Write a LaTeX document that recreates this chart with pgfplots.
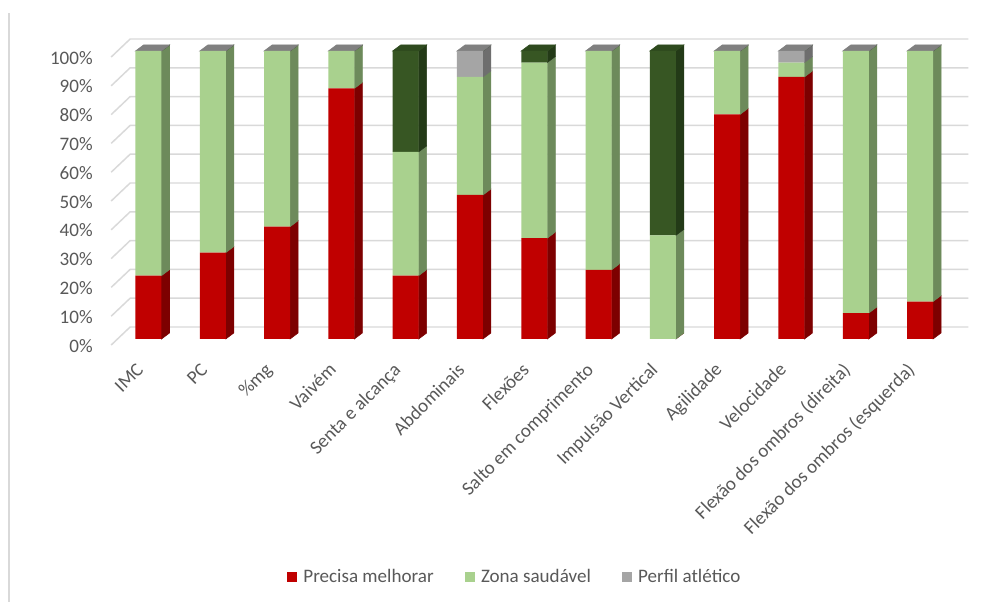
\documentclass[border=0pt]{standalone}
\usepackage{pgfplots}
\pgfplotsset{compat=1.18}
\usepackage{pgfplotstable}
\usepackage{fontspec}
\setmainfont{Carlito}

\definecolor{redF}{HTML}{C00000}
\definecolor{redS}{HTML}{7D0000}
\definecolor{grnF}{HTML}{A9D18E}
\definecolor{grnS}{HTML}{6D8A5B}
\definecolor{gryF}{HTML}{A5A5A5}
\definecolor{gryS}{HTML}{6E6E6E}
\definecolor{gryC}{HTML}{808080}
\definecolor{dkgF}{HTML}{375623}
\definecolor{dkgS}{HTML}{233A17}
\definecolor{dkgC}{HTML}{2E4A1E}
\definecolor{gridc}{HTML}{D9D9D9}
\definecolor{textc}{HTML}{595959}

\pgfdeclareplotmark{empty}{}

% % per test: precisa melhorar, zona saudavel, perfil atletico, perfil (verde escuro)
\pgfplotstableread{
x  red green gray dark
0  22  78    0    0
1  30  70    0    0
2  39  61    0    0
3  87  13    0    0
4  22  43    0    35
5  50  41    9    0
6  35  61    0    4
7  24  76    0    0
8  0   36    0    64
9  78  22    0    0
10 91  5     4    0
11 9   91    0    0
12 13  87    0    0
}\testdata

\pgfplotsset{
  base/.style={
    scale only axis, width=629.3pt, height=216pt,
    xmin=-0.6, xmax=12.45, ymin=0, ymax=100,
    enlargelimits=false,
    at={(82.43pt,197.25pt)}, anchor=south west,
  },
  side/.style 2 args={
    only marks, mark=empty, scatter,
    visualization depends on={\thisrow{#1} \as \hh},
    scatter/@pre marker code/.code={%
      \fill[#2] (9.75pt,0pt) -- (15.75pt,4.5pt) -- (15.75pt,4.5pt+\hh*2.16pt)
        -- (9.75pt,\hh*2.16pt) -- cycle;},
    scatter/@post marker code/.code={},
  },
  sq/.style={legend image code/.code={\fill[##1] (0pt,-3.75pt) rectangle (7.5pt,3.75pt);}},
}

\begin{document}
\begin{tikzpicture}
\useasboundingbox (0,0) rectangle (753.75pt,451.5pt);
\fill[white] (0,0) rectangle (753.75pt,451.5pt);
\draw[gridc, line width=1.5pt] (6.75pt,0) -- (6.75pt,441.75pt);

% back wall grid and 3D side faces
\begin{axis}[base, hide axis, clip=false]
\pgfplotsinvokeforeach{0,10,...,100}{
  \draw[gridc, line width=1.1pt] ([yshift=-4.5pt]axis cs:-0.58,#1)
    -- ([yshift=9pt]axis cs:-0.285,#1) -- ([yshift=9pt]axis cs:12.75,#1);
}
\addplot[side={red}{redS}] table[x=x, y expr=0] {\testdata};
\addplot[side={green}{grnS}] table[x=x, y=red] {\testdata};
\addplot[side={gray}{gryS}] table[x=x, y expr=\thisrow{red}+\thisrow{green}] {\testdata};
\addplot[side={dark}{dkgS}] table[x=x, y expr=\thisrow{red}+\thisrow{green}+\thisrow{gray}] {\testdata};
% top caps
\addplot[only marks, mark=empty, scatter,
  visualization depends on={\thisrow{dark} \as \dd},
  scatter/@pre marker code/.code={%
    \ifdim\dd pt>0pt \def\capc{dkgC}\else\def\capc{gryC}\fi
    \fill[\capc] (-9.75pt,0pt) -- (9.75pt,0pt) -- (15.75pt,4.5pt) -- (-3.75pt,4.5pt) -- cycle;},
  scatter/@post marker code/.code={},
] table[x=x, y expr=100] {\testdata};
\end{axis}

% front faces
\begin{axis}[base,
  ybar stacked, bar width=19.5pt,
  clip=false,
  axis line style={draw=none},
  major tick length=0pt,
  xtick={0,...,12},
  xticklabels={{IMC},{PC},{\%mg},{Vaivém},{Senta e alcança},{Abdominais},{Flexões},
    {Salto em comprimento},{Impulsão Vertical},{Agilidade},{Velocidade},
    {Flexão dos ombros (direita)},{Flexão dos ombros (esquerda)}},
  ytick={0,10,...,100},
  yticklabels={0\%,10\%,20\%,30\%,40\%,50\%,60\%,70\%,80\%,90\%,100\%},
  tick label style={font=\fontsize{14.3}{17}\selectfont, text=textc, inner sep=0pt},
  yticklabel style={anchor=east, xshift=-12.75pt, yshift=-5pt},
  xticklabel style={xshift=-3pt, yshift=-24pt, rotate=45, anchor=base east},
  legend style={at={(0.485,-0.826)}, anchor=center, draw=none, fill=none,
    font=\fontsize{14.3}{17}\selectfont, text=textc,
    legend columns=-1,
    nodes={inner xsep=4.5pt},
    /tikz/every even column/.append style={column sep=19pt}},
]
\addplot[fill=redF, draw=none, sq] table[x=x, y=red] {\testdata};
\addlegendentry{Precisa melhorar}
\addplot[fill=grnF, draw=none, sq] table[x=x, y=green] {\testdata};
\addlegendentry{Zona saudável}
\addplot[fill=gryF, draw=none, sq] table[x=x, y=gray] {\testdata};
\addlegendentry{Perfil atlético}
\addplot[fill=dkgF, draw=none] table[x=x, y=dark] {\testdata};
\end{axis}
\end{tikzpicture}
\end{document}
